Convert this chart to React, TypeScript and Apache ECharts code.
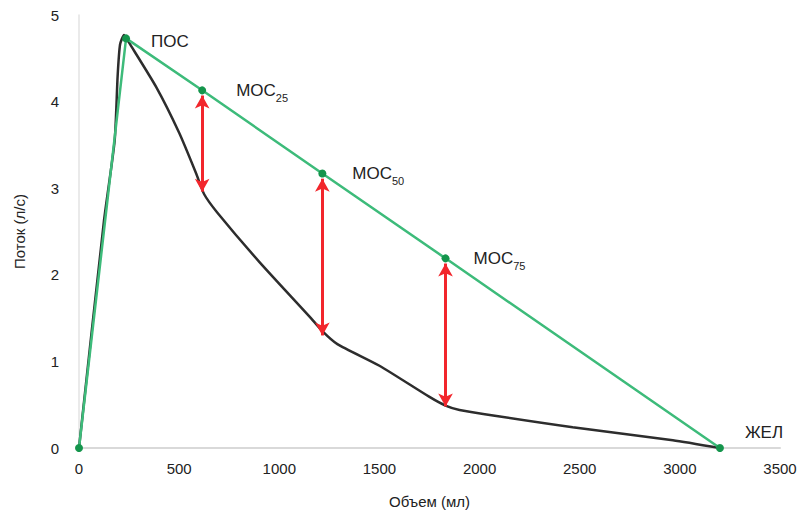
import React, { useEffect, useRef } from "react";
import * as echarts from "echarts";

// Black flow-volume curve (volume ml, flow l/s)
const curveVolume = [0, 125, 178, 193, 205, 225, 250, 385, 500, 585, 625, 690, 900, 1150, 1215, 1290, 1500, 1750, 1830, 1900, 2465, 2965, 3200];
const curveFlow = [0, 2.63, 3.55, 4.3, 4.66, 4.77, 4.68, 4.17, 3.64, 3.17, 2.93, 2.72, 2.15, 1.52, 1.35, 1.2, 0.95, 0.59, 0.49, 0.44, 0.24, 0.09, 0];

// Green reference line and key points
const keyVolume = [0, 235, 615, 1215, 1830, 3200];
const keyFlow = [0, 4.73, 4.13, 3.17, 2.19, 0];
const keyLabels = ["", "ПОС", "МОС|25", "МОС|50", "МОС|75", "ЖЕЛ"];

// Red arrows: volume, top flow, bottom flow
const arrowVolume = [615, 1215, 1830];
const arrowTop = [4.07, 3.11, 2.13];
const arrowBottom = [2.96, 1.3, 0.48];

const xTicks = { min: 0, max: 3500, interval: 500 };
const yTicks = { min: 0, max: 5, interval: 1 };

const FONT = "'Liberation Sans', Arial, Helvetica, sans-serif";

export default function App() {
  const ref = useRef<HTMLDivElement>(null);
  useEffect(() => {
    if (!ref.current) return;
    const chart = echarts.init(ref.current, null, { renderer: "svg" });

    const labelDistance = [0, 21, 30, 26, 24, 21];
    const labelOffsetY = [0, 3, 0, 0, 0, -16];

    const curveData = curveVolume.map((v, i) => [v, curveFlow[i]]);
    const keyData = keyVolume.map((v, i) => {
      const name = keyLabels[i];
      const item: any = { value: [v, keyFlow[i]] };
      if (!name) {
        item.label = { show: false };
      } else {
        const parts = name.split("|");
        item.label = {
          show: true,
          position: "right",
          distance: labelDistance[i],
          offset: [0, labelOffsetY[i]],
          formatter: parts.length > 1 ? `{a|${parts[0]}}{b|${parts[1]}}` : `{a|${parts[0]}}`,
        };
      }
      return item;
    });
    const arrowData = arrowVolume.map((v, i) => [
      { coord: [v, arrowTop[i]] },
      { coord: [v, arrowBottom[i]] },
    ]);

    chart.setOption({
      animation: false,
      textStyle: { fontFamily: FONT },
      grid: { left: 79, right: 23, top: 15, bottom: 69 },
      xAxis: {
        type: "value",
        min: xTicks.min,
        max: xTicks.max,
        interval: xTicks.interval,
        name: "Объем (мл)",
        nameLocation: "middle",
        nameGap: 46,
        nameTextStyle: { fontSize: 15, color: "#222", fontFamily: FONT },
        axisLine: { show: true, lineStyle: { color: "#d9d9d9", width: 2 } },
        axisTick: { show: false },
        splitLine: { show: false },
        axisLabel: { fontSize: 15, color: "#222", margin: 13, fontFamily: FONT, formatter: (v: number) => String(v) },
      },
      yAxis: {
        type: "value",
        min: yTicks.min,
        max: yTicks.max,
        interval: yTicks.interval,
        name: "Поток (л/с)",
        nameLocation: "middle",
        nameGap: 52,
        nameTextStyle: { fontSize: 15, color: "#222", fontFamily: FONT },
        axisLine: { show: true, lineStyle: { color: "#e3e3e3", width: 1.5 } },
        axisTick: { show: false },
        splitLine: { show: false },
        axisLabel: { fontSize: 15, color: "#222", margin: 20, fontFamily: FONT, formatter: (v: number) => String(v) },
      },
      series: [
        {
          type: "line",
          data: curveData,
          smooth: 0.2,
          showSymbol: false,
          symbol: "none",
          lineStyle: { color: "#2d2d2d", width: 2.5 },
          z: 2,
        },
        {
          type: "line",
          data: [],
          z: 3,
          markLine: {
            silent: true,
            symbol: ["arrow", "arrow"],
            symbolSize: [11, 13],
            label: { show: false },
            lineStyle: { color: "#f2262c", width: 3, type: "solid" },
            data: arrowData,
          },
        },
        {
          type: "line",
          data: keyData,
          symbol: "circle",
          symbolSize: 8,
          itemStyle: { color: "#14954c" },
          lineStyle: { color: "#3dbb7a", width: 2.5 },
          z: 4,
          label: {
            color: "#222",
            fontSize: 17,
            fontFamily: FONT,
            rich: {
              a: { fontSize: 17, color: "#222", fontFamily: FONT },
              b: { fontSize: 11, color: "#222", fontFamily: FONT, padding: [15, 0, 0, 0] },
            },
          },
        },
      ],
    });
    return () => chart.dispose();
  }, []);
  return <div ref={ref} style={{ width: 803, height: 517, position: "absolute", left: 0, top: 0 }} />;
}
